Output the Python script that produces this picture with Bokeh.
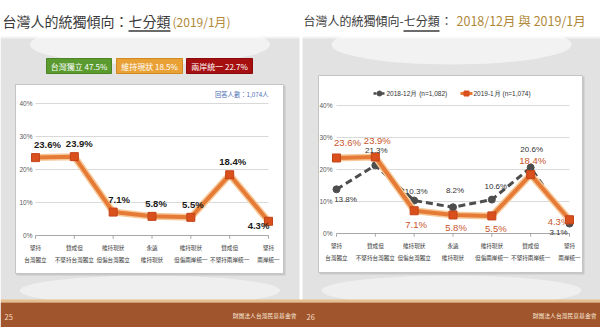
from bokeh.plotting import figure
from bokeh.models import Range1d, ColumnDataSource
from bokeh.embed import file_html
from bokeh.resources import INLINE
from bokeh.core.properties import value

# ---------------- data ----------------
categories = ["堅持\n台灣獨立", "贊成但\n不堅持台灣獨立", "維持現狀\n但偏台灣獨立",
              "永遠\n維持現狀", "維持現狀\n但偏兩岸統一", "贊成但\n不堅持兩岸統一", "堅持\n兩岸統一"]
jan2019 = [23.6, 23.9, 7.1, 5.8, 5.5, 18.4, 4.3]
dec2018 = [13.8, 21.3, 10.3, 8.2, 10.6, 20.6, 3.1]
y_ticks = [0, 10, 20, 30, 40]
y_tick_labels = ["0%", "10%", "20%", "30%", "40%"]
summary_labels = ["台灣獨立 47.5%", "維持現狀 18.5%", "兩岸統一 22.7%"]
legend_labels = ["2018-12月 (n=1,082)", "2019-1月 (n=1,074)"]

# label placement (screen px offsets) – styling only
left_dx = [12, 5, 6, 4, 2, 3, -10]
left_dy = [-13, -13, -13, -13, -13, -13, 4]
jan_dx = [11, 2, 2, 3, 4, 2, -11]
jan_dy = [-15, -17, 14, 13, 13, -14, 2]
dec_dx = [9, 1, 2, 2, 4, 1, -11]
dec_dy = [10, -15, -9, -17, -13, -18, 9]

W, H = 600, 327
CJK = value("Noto Sans CJK TC")
NUM = value("Liberation Sans")

p = figure(width=W, height=H, x_range=Range1d(0, W), y_range=Range1d(H, 0),
           x_axis_type=None, y_axis_type=None, output_backend="svg",
           toolbar_location=None, min_border=0)
p.outline_line_color = None
p.background_fill_color = "white"
p.border_fill_color = "white"


def make_ranges(name, x_first, x_last, y_zero, y_top):
    n = len(categories) - 1
    kx = (x_last - x_first) / n
    ky = (y_zero - y_top) / y_ticks[-1]
    end = y_zero / ky
    return ({name + "x": Range1d(-x_first / kx, (W - x_first) / kx)},
            {name + "y": Range1d(end - H / ky, end)})


xr1, yr1 = make_ranges("L", 35, 268, 235, 103)
xr2, yr2 = make_ranges("R", 336, 569, 233, 105)
p.extra_x_ranges = {**xr1, **xr2}
p.extra_y_ranges = {**yr1, **yr2}

# ---------------- slide backgrounds ----------------
for (l, r) in [(0, 299), (302, 600)]:
    p.quad(left=l, right=r, top=36, bottom=300, fill_color="#e2e2e2", line_color=None)
    cx = (l + r) / 2
    p.ellipse(x=cx, y=44, width=240, height=40, fill_color="white", fill_alpha=0.55, line_color=None)
    p.ellipse(x=cx, y=290, width=260, height=30, fill_color="white", fill_alpha=0.45, line_color=None)
p.quad(left=0, right=W, top=32, bottom=38, fill_color="white", fill_alpha=0.6, line_color=None)

# footer
p.quad(left=0, right=W, top=299, bottom=302, fill_color="#e6bf8c", line_color=None)
p.quad(left=0, right=W, top=302, bottom=H, fill_color="#a1552c", line_color=None)
p.text(x=[4, 306], y=[316, 316], text=["25", "26"], text_font=CJK, text_font_size="7.5px",
       text_color="#f6dcc2", text_baseline="middle")
p.text(x=[296, 596], y=[315, 315], text=["財團法人台灣民意基金會"] * 2, text_font=CJK,
       text_font_size="5.8px", text_color="#f8e8da", text_align="right", text_baseline="middle")

# titles
p.text(x=[2], y=[20], text=["台灣人的統獨傾向：七分類"], text_font=CJK, text_font_size="14px",
       text_color="#3a3a3a", text_baseline="middle")
p.segment(x0=[128], x1=[170], y0=[30.5], y1=[30.5], line_color="#3a3a3a", line_width=1.5)
p.text(x=[172], y=[20.5], text=["(2019/1月)"], text_font=CJK, text_font_size="12px",
       text_color="#b08838", text_baseline="middle")

p.text(x=[303], y=[20], text=["台灣人的統獨傾向-七分類"], text_font=CJK, text_font_size="12px",
       text_color="#3a3a3a", text_baseline="middle")
p.segment(x0=[403], x1=[439], y0=[30.5], y1=[30.5], line_color="#3a3a3a", line_width=1.5)
p.text(x=[440], y=[20], text=["："], text_font=CJK, text_font_size="12px",
       text_color="#3a3a3a", text_baseline="middle")
p.text(x=[456], y=[20], text=["2018/12月 與 2019/1月"], text_font=CJK, text_font_size="12.5px",
       text_color="#b08838", text_baseline="middle")

# summary boxes (left slide)
box_l = [46, 116, 186]
box_r = [111, 182, 252]
box_fill = ["#5a9a2e", "#e9a136", "#a50f10"]
box_line = ["#4b8526", "#d18a22", "#8a0b0b"]
p.quad(left=box_l, right=box_r, top=58, bottom=73, fill_color=box_fill, line_color=box_line)
p.text(x=[(a + b) / 2 for a, b in zip(box_l, box_r)], y=[65.8] * 3, text=summary_labels,
       text_font=CJK, text_font_size="8px", text_color="white", text_align="center",
       text_baseline="middle")

# chart boxes
for (l, r, t, b) in [(15, 283, 84, 273), (318, 582, 75, 272)]:
    p.quad(left=l + 1, right=r + 2, top=t + 1, bottom=b + 2, fill_color="#b8b8b8", fill_alpha=0.6, line_color=None)
    p.quad(left=l, right=r, top=t, bottom=b, fill_color="white", line_color="#c4c4c4", line_width=1)

p.text(x=[268], y=[94], text=["回答人數：1,074人"], text_font=CJK, text_font_size="6.3px",
       text_color="#4f6fb3", text_align="right", text_baseline="middle")

xs = list(range(len(categories)))
n_last = len(categories) - 1
cat_top = [c.split("\n")[0] for c in categories]
cat_bot = [c.split("\n")[1] for c in categories]


def draw_axes(xn, yn, label_x_off):
    # grid lines
    p.segment(x0=[0] * (len(y_ticks) - 1), x1=[n_last] * (len(y_ticks) - 1), y0=y_ticks[1:], y1=y_ticks[1:],
              x_range_name=xn, y_range_name=yn, line_color="#d9d9d9", line_width=1)
    # baseline
    p.segment(x0=[0], x1=[n_last], y0=[0], y1=[0], x_range_name=xn, y_range_name=yn,
              line_color="#a6a6a6", line_width=1.2)
    # tick marks
    p.segment(x0=xs, x1=xs, y0=[0] * len(xs), y1=[-1] * len(xs), x_range_name=xn, y_range_name=yn,
              line_color="#a6a6a6", line_width=1)
    # y tick labels
    p.text(x=[0] * len(y_ticks), y=y_ticks, text=y_tick_labels, x_offset=label_x_off,
           x_range_name=xn, y_range_name=yn, text_font=NUM, text_font_size="6.5px",
           text_color="#595959", text_align="right", text_baseline="middle")
    # category labels (two lines)
    p.text(x=xs, y=[0] * len(xs), text=cat_top, y_offset=12, x_range_name=xn, y_range_name=yn,
           text_font=CJK, text_font_size="5.6px", text_color="#3a3a3a", text_align="center",
           text_baseline="middle")
    p.text(x=xs, y=[0] * len(xs), text=cat_bot, y_offset=24.5, x_range_name=xn, y_range_name=yn,
           text_font=CJK, text_font_size="5.6px", text_color="#3a3a3a", text_align="center",
           text_baseline="middle")


draw_axes("Lx", "Ly", -3)
draw_axes("Rx", "Ry", -4)

# ---------------- left chart series ----------------
p.line(xs, jan2019, x_range_name="Lx", y_range_name="Ly", line_color="#f6c99a", line_width=7)
p.line(xs, jan2019, x_range_name="Lx", y_range_name="Ly", line_color="#e57b36", line_width=4)
p.scatter(xs, jan2019, x_range_name="Lx", y_range_name="Ly", marker="square", size=8,
          fill_color="#d9501c", line_color="#c4441a")
srcL = ColumnDataSource(dict(x=xs, y=jan2019, t=[f"{v:.1f}%" for v in jan2019], dx=left_dx, dy=left_dy))
p.text(x="x", y="y", text="t", x_offset="dx", y_offset="dy", source=srcL,
       x_range_name="Lx", y_range_name="Ly", text_font=NUM, text_font_size="9.5px",
       text_font_style="bold", text_color="#1a1a1a", text_align="center", text_baseline="middle")

# ---------------- right chart series ----------------
p.line(xs, dec2018, x_range_name="Rx", y_range_name="Ry", line_color="#4d4d4d", line_width=3,
       line_dash="7 4")
p.scatter(xs, dec2018, x_range_name="Rx", y_range_name="Ry", marker="circle", size=7,
          fill_color="#4d4d4d", line_color="#4d4d4d")
p.line(xs, jan2019, x_range_name="Rx", y_range_name="Ry", line_color="#f6c99a", line_width=7)
p.line(xs, jan2019, x_range_name="Rx", y_range_name="Ry", line_color="#e57b36", line_width=4)
p.scatter(xs, jan2019, x_range_name="Rx", y_range_name="Ry", marker="square", size=8,
          fill_color="#d9501c", line_color="#c4441a")
srcD = ColumnDataSource(dict(x=xs, y=dec2018, t=[f"{v:.1f}%" for v in dec2018], dx=dec_dx, dy=dec_dy))
p.text(x="x", y="y", text="t", x_offset="dx", y_offset="dy", source=srcD,
       x_range_name="Rx", y_range_name="Ry", text_font=NUM, text_font_size="8px",
       text_color="#333333", text_align="center", text_baseline="middle")
srcJ = ColumnDataSource(dict(x=xs, y=jan2019, t=[f"{v:.1f}%" for v in jan2019], dx=jan_dx, dy=jan_dy))
p.text(x="x", y="y", text="t", x_offset="dx", y_offset="dy", source=srcJ,
       x_range_name="Rx", y_range_name="Ry", text_font=NUM, text_font_size="9.5px",
       text_color="#c8552a", text_align="center", text_baseline="middle")

# right legend
p.segment(x0=[373], x1=[385], y0=[93], y1=[93], line_color="#4d4d4d", line_width=2.5, line_dash="3 1")
p.scatter(x=[379], y=[93], marker="circle", size=5, fill_color="#4d4d4d", line_color="#4d4d4d")
p.segment(x0=[460], x1=[472], y0=[93], y1=[93], line_color="#e57b36", line_width=3)
p.scatter(x=[466], y=[93], marker="square", size=5, fill_color="#d9501c", line_color="#d9501c")
p.text(x=[386, 473], y=[93, 93], text=legend_labels, text_font=NUM, text_font_size="6.5px",
       text_color="#333333", text_baseline="middle")

open("out.html", "w").write(file_html(p, INLINE))
